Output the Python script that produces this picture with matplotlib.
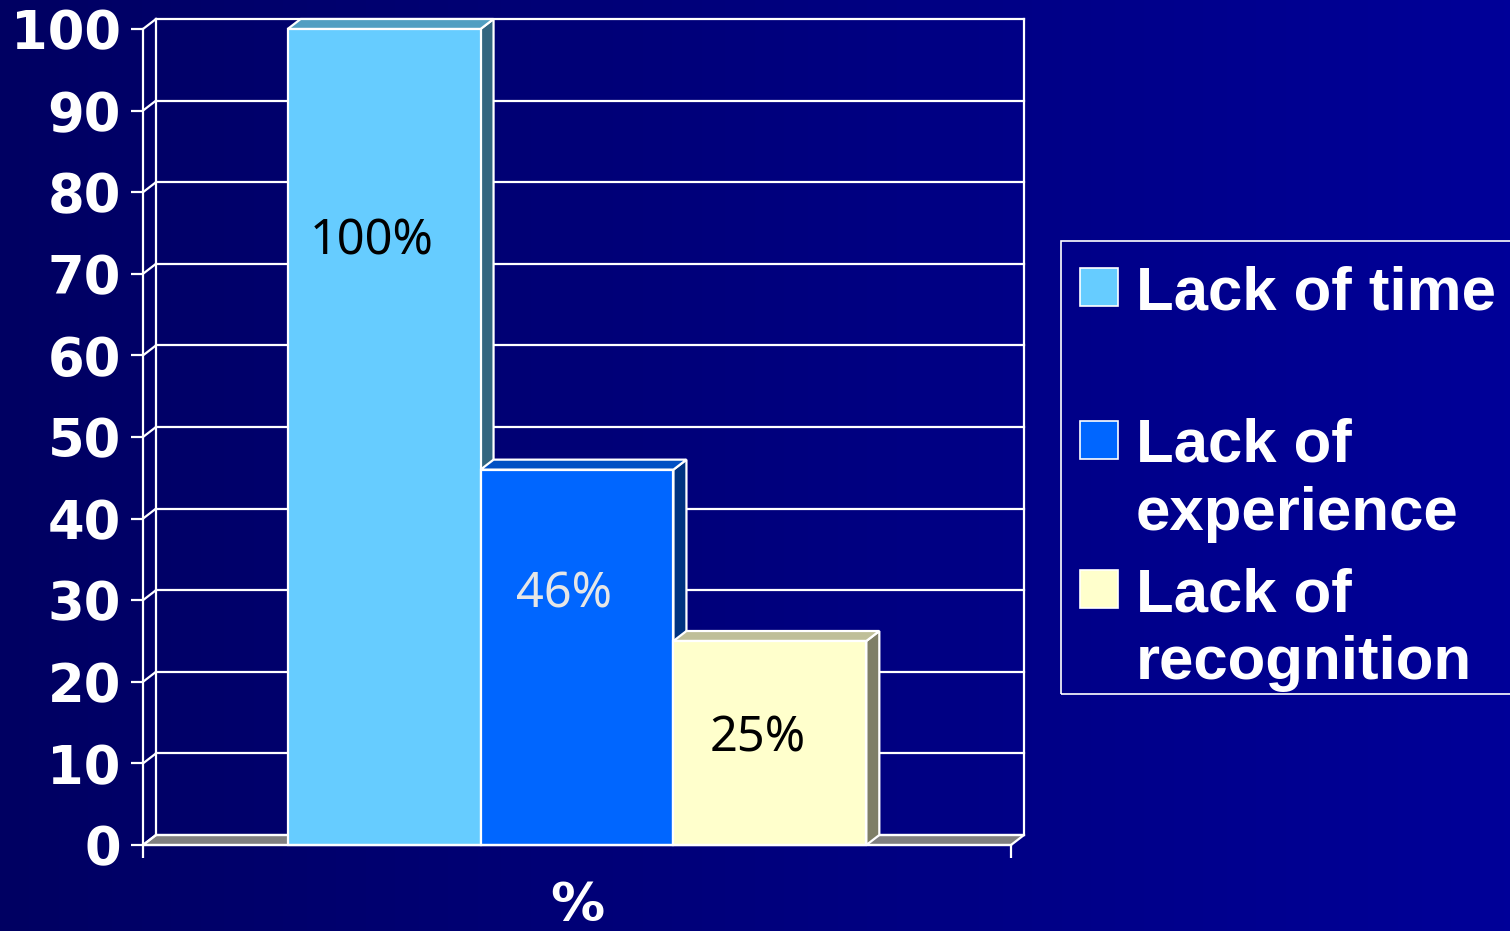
import numpy as np
import matplotlib.pyplot as plt
from matplotlib.patches import Polygon, Rectangle
from matplotlib.colors import LinearSegmentedColormap

# data
categories = ["Lack of time", "Lack of\nexperience", "Lack of\nrecognition"]
values = [100, 46, 25]
value_labels = ["100%", "46%", "25%"]
yticks = [0, 10, 20, 30, 40, 50, 60, 70, 80, 90, 100]
x_label = "%"

# styles
front_colors = ["#66CCFF", "#0066FF", "#FFFFCC"]
top_colors = ["#529FC2", "#0050C4", "#BFBF99"]
side_colors = ["#336680", "#003380", "#7F7F66"]
label_colors = ["black", "#E6E6E6", "black"]
label_y = [74.0, 30.7, 13.0]

W, H = 1510, 931
fig = plt.figure(figsize=(W / 100, H / 100), dpi=100)


def px(x0, y0, w, h):
    # pixel box (top-left origin) -> figure fraction
    return [x0 / W, 1 - (y0 + h) / H, w / W, h / H]


# gradient background
bg = fig.add_axes([0, 0, 1, 1])
grad = np.linspace(0, 1, 256).reshape(1, -1)
cmap = LinearSegmentedColormap.from_list("bg", ["#000062", "#000098"])
bg.imshow(grad, aspect="auto", cmap=cmap, extent=[0, 1, 0, 1])
bg.axis("off")

ax = fig.add_axes(px(143, 29, 868, 816))
ax.patch.set_alpha(0)
xmin, xmax = -1.25, 3.25
ax.set_xlim(xmin, xmax)
ax.set_ylim(0, 100)
dx = 13 * (xmax - xmin) / 868
dy = 10 * 100 / 816
lw = 1.6

# floor
floor = Polygon([(xmin, 0), (xmin + dx, dy), (xmax + dx, dy), (xmax, 0)],
                closed=True, fc="#808080", ec="white", lw=lw, clip_on=False, zorder=1)
ax.add_patch(floor)

# back wall grid
for t in yticks:
    ax.plot([xmin + dx, xmax + dx], [t + dy, t + dy], color="white", lw=lw, clip_on=False, zorder=1)
    ax.plot([xmin, xmin + dx], [t, t + dy], color="white", lw=lw, clip_on=False, zorder=1)
for xx in [xmin + dx, xmax + dx]:
    ax.plot([xx, xx], [dy, 100 + dy], color="white", lw=lw, clip_on=False, zorder=1)

# 3d bars
for i, v in enumerate(values):
    x0, x1 = i - 0.5, i + 0.5
    z = 3 + i
    ax.add_patch(Polygon([(x1, 0), (x1, v), (x1 + dx, v + dy), (x1 + dx, dy)], closed=True,
                         fc=side_colors[i], ec="white", lw=lw, clip_on=False, zorder=z))
    ax.add_patch(Polygon([(x0, v), (x0 + dx, v + dy), (x1 + dx, v + dy), (x1, v)], closed=True,
                         fc=top_colors[i], ec="white", lw=lw, clip_on=False, zorder=z))
    ax.add_patch(Rectangle((x0, 0), 1, v, fc=front_colors[i], ec="white", lw=lw,
                           clip_on=False, zorder=z))
    ax.text(i - 0.065, label_y[i], value_labels[i], ha="center", va="center",
            fontsize=35, family="Noto Sans", color=label_colors[i], zorder=10)

# axes
for s in ["top", "right"]:
    ax.spines[s].set_visible(False)
for s in ["left", "bottom"]:
    ax.spines[s].set_color("white")
    ax.spines[s].set_linewidth(lw)
    ax.spines[s].set_zorder(8)
ax.set_yticks(yticks, labels=[str(t) for t in yticks], fontsize=38,
              fontweight="bold", color="white", family="DejaVu Sans")
ax.set_xticks([xmin, xmax], labels=["", ""])
ax.tick_params(axis="y", colors="white", length=9, width=lw, pad=7)
ax.tick_params(axis="x", colors="white", length=9, width=lw)
ax.text(0.5, -0.0745, x_label, transform=ax.transAxes, ha="center", va="center",
        fontsize=39, fontweight="bold", color="white", family="DejaVu Sans")

# legend
fig.add_artist(Rectangle((1061 / W, 1 - 694 / H), 460 / W, 453 / H, transform=fig.transFigure,
                         fc="none", ec="white", lw=1.2))
sq_tops = [268, 421, 570]
for i, lab in enumerate(categories):
    fig.add_artist(Rectangle((1080 / W, 1 - (sq_tops[i] + 38) / H), 38 / W, 38 / H,
                             transform=fig.transFigure, fc=front_colors[i], ec="white", lw=1.2))
    for j, line in enumerate(lab.split("\n")):
        base = sq_tops[i] + 41 + j * 68
        fig.text(1136 / W, 1 - base / H, line, ha="left", va="baseline", fontsize=44.5,
                 fontweight="bold", color="white", family="Liberation Sans")

fig.savefig("out.png", dpi=100)
